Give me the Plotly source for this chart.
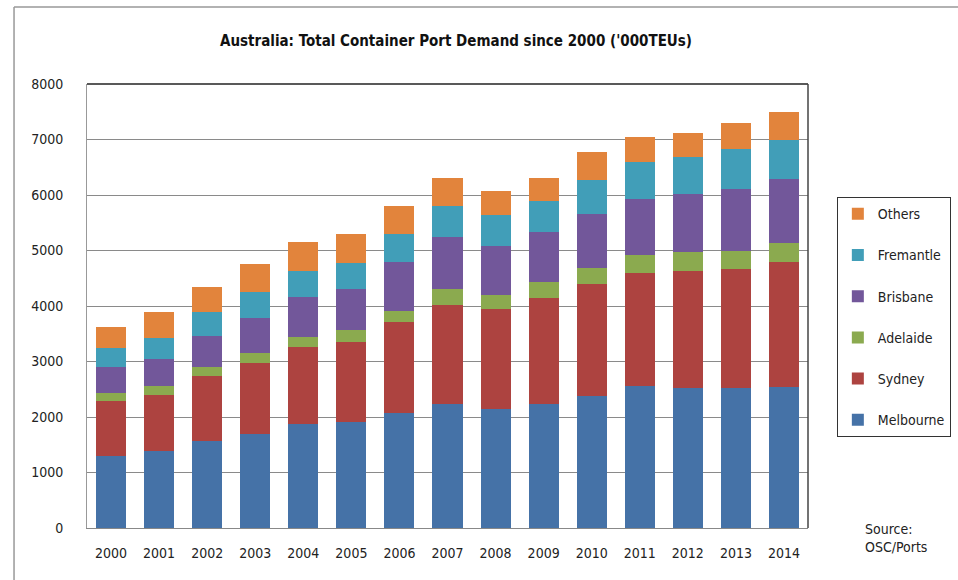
import plotly.graph_objects as go

years = [str(y) for y in range(2000, 2015)]
melbourne = [1293, 1389, 1564, 1702, 1870, 1912, 2081, 2243, 2141, 2231, 2375, 2555, 2514, 2514, 2543]
sydney    = [992, 1004, 1177, 1263, 1394, 1442, 1623, 1773, 1798, 1906, 2020, 2044, 2115, 2146, 2254]
adelaide  = [150, 162, 152, 191, 181, 211, 204, 289, 258, 288, 283, 319, 348, 335, 332]
brisbane  = [458, 482, 570, 631, 721, 745, 889, 932, 889, 913, 979, 1010, 1035, 1108, 1154]
fremantle = [342, 378, 433, 464, 463, 469, 494, 570, 553, 559, 614, 673, 668, 721, 709]
others    = [379, 481, 439, 499, 518, 512, 516, 494, 433, 404, 499, 450, 432, 469, 499]

series = [
    ("Melbourne", melbourne, "#4572A7"),
    ("Sydney", sydney, "#AD4340"),
    ("Adelaide", adelaide, "#8BAA4F"),
    ("Brisbane", brisbane, "#72579A"),
    ("Fremantle", fremantle, "#419EB8"),
    ("Others", others, "#E2843C"),
]

FONT = "Liberation Sans Narrow, DejaVu Sans Condensed, Arial Narrow, Arial, sans-serif"

fig = go.Figure()
n = len(series)
for i, (name, vals, col) in enumerate(series):
    fig.add_trace(go.Bar(x=years, y=vals, name=name, marker_color=col,
                         marker_line_width=0, legendgroup=name,
                         legendrank=n - i))

fig.update_layout(
    barmode="stack",
    bargap=0.375,
    width=958, height=580,
    margin=dict(l=87, r=150, t=84, b=52, autoexpand=False),
    paper_bgcolor="white", plot_bgcolor="white",
    font=dict(family=FONT, size=14, color="#222"),
    title=dict(text="<b>Australia: Total Container Port Demand since 2000 ('000TEUs)</b>",
               x=0.476, xanchor="center", y=0.930, yanchor="middle",
               font=dict(family=FONT, size=15, color="#111")),
    showlegend=True,
    legend=dict(traceorder="grouped", tracegroupgap=20,
                x=1.040, xanchor="left", y=0.745, yanchor="top",
                bgcolor="white", bordercolor="#333", borderwidth=1,
                font=dict(family=FONT, size=14, color="#222"),
                itemwidth=30),
    xaxis=dict(showline=True, linecolor="#888", linewidth=1, ticks="",
               tickfont=dict(family=FONT, size=14, color="#222"),
               ticklabelstandoff=12),
    yaxis=dict(range=[0, 8000], dtick=1000, showgrid=True, gridcolor="#8a8a8a",
               gridwidth=1, showline=True, linecolor="#999", linewidth=1,
               zeroline=False, ticks="",
               tickfont=dict(family=FONT, size=14, color="#222"),
               ticklabelstandoff=20),
    shapes=[
        dict(type="line", xref="paper", yref="paper", x0=0, x1=1, y0=1, y1=1,
             line=dict(color="#222", width=1.5)),
        dict(type="line", xref="paper", yref="paper", x0=1, x1=1, y0=0, y1=1,
             line=dict(color="#444", width=1.5)),
        dict(type="line", xref="paper", yref="paper", x0=-0.1012, x1=-0.1012, y0=-0.2, y1=1.1734,
             line=dict(color="#999", width=1.5)),
        dict(type="line", xref="paper", yref="paper", x0=-0.1012, x1=1.3, y0=1.1734, y1=1.1734,
             line=dict(color="#999", width=1.5)),
    ],
    annotations=[
        dict(text="Source:<br>OSC/Ports", xref="paper", yref="paper",
             x=1.076, y=0.02, xanchor="left", yanchor="top", align="left",
             showarrow=False, font=dict(family=FONT, size=14, color="#222")),
    ],
)

fig.write_html("out.html")
